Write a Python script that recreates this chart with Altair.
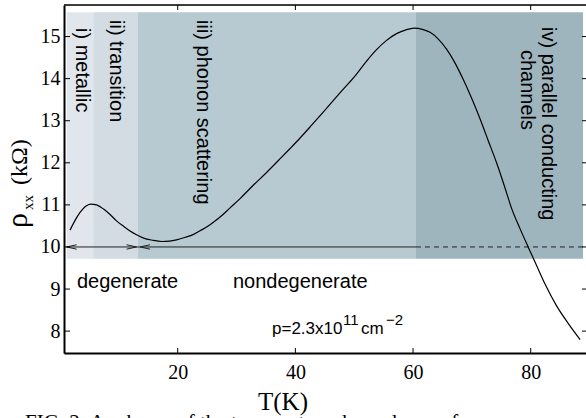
import altair as alt
import pandas as pd

# ---- data ----
T = [1.7, 2.5, 3.4, 4.3, 5.2, 6.2, 7.4, 8.5, 9.6, 10.8, 11.9, 13.0, 14.2, 15.7,
     17.3, 18.6, 19.8, 21.3, 22.7, 24.0, 25.5, 27.2, 28.9, 30.6, 32.8, 35.1,
     37.5, 39.1, 40.8, 42.8, 44.7, 47.5, 50.4, 52.0, 53.8, 55.5, 57.2, 58.8,
     60.2, 61.6, 62.9, 64.3, 65.7, 67.1, 68.5, 70.0, 71.4, 72.8, 74.2, 75.5,
     76.8, 78.2, 79.6, 81.0, 82.5, 84.4, 86.4, 88.4]
rho = [10.40, 10.62, 10.82, 10.96, 11.02, 11.00, 10.90, 10.77, 10.62, 10.49,
       10.38, 10.29, 10.21, 10.16, 10.13, 10.14, 10.17, 10.23, 10.30, 10.40,
       10.53, 10.71, 10.93, 11.15, 11.46, 11.77, 12.11, 12.34, 12.59, 12.90,
       13.20, 13.65, 14.11, 14.40, 14.69, 14.91, 15.07, 15.16, 15.20, 15.17,
       15.10, 14.94, 14.70, 14.38, 13.99, 13.52, 13.04, 12.52, 12.00, 11.46,
       10.90, 10.43, 9.99, 9.56, 9.10, 8.60, 8.18, 7.80]

region_start = [1.12, 5.65, 13.25, 60.5]
region_end = [5.65, 13.25, 60.5, 88.9]
region_colors = ["#e0e6eb", "#d3dce3", "#b7c9d1", "#9fb5bd"]
region_bottom = 9.72
region_top = 15.58

x_ticks = [20, 40, 60, 80]
y_ticks = [8, 9, 10, 11, 12, 13, 14, 15]

boundary_rho = 10
solid_span = [1.12, 60.5]
dashed_span = [60.5, 88.9]
left_tips = [1.12, 13.6]
right_tips = [13.0]

W, H = 522, 348
xscale = alt.Scale(domain=[0.67, 89.4], nice=False, zero=False)
yscale = alt.Scale(domain=[7.48, 15.75], nice=False, zero=False)
SERIF = "Liberation Serif"
SANS = "Liberation Sans"

xaxis = alt.Axis(values=x_ticks, title=None, grid=False, ticks=False,
                 tickSize=0, labelFont=SERIF, labelFontSize=20,
                 labelColor="black", labelPadding=9, domainColor="black",
                 domainWidth=2)
yaxis = alt.Axis(values=y_ticks, title=None, grid=False, ticks=False,
                 tickSize=0, labelFont=SERIF, labelFontSize=20,
                 labelColor="black", labelPadding=4, domainColor="black",
                 domainWidth=2)


def X(f):
    return alt.X(f, scale=xscale, axis=xaxis)


def Y(f):
    return alt.Y(f, scale=yscale, axis=yaxis)


curve_df = pd.DataFrame({"T": T, "rho": rho})
reg_df = pd.DataFrame({"x0": region_start, "x1": region_end,
                       "y0": [region_bottom] * 4, "y1": [region_top] * 4,
                       "c": region_colors})

regions = alt.Chart(reg_df).mark_rect().encode(
    x=X("x0:Q"), x2="x1:Q", y=Y("y0:Q"), y2="y1:Q",
    color=alt.Color("c:N", scale=None))

solid = alt.Chart(pd.DataFrame({"a": [solid_span[0]], "b": [solid_span[1]],
                                "r": [boundary_rho]})).mark_rule(
    color="#222", strokeWidth=1).encode(x=X("a:Q"), x2="b:Q", y=Y("r:Q"))

dashed = alt.Chart(pd.DataFrame({"a": [dashed_span[0]], "b": [dashed_span[1]],
                                 "r": [boundary_rho]})).mark_rule(
    color="#222", strokeWidth=1, strokeDash=[5, 4]).encode(x=X("a:Q"), x2="b:Q", y=Y("r:Q"))

lt = alt.Chart(pd.DataFrame({"t": left_tips, "r": [boundary_rho] * len(left_tips)})).mark_point(
    shape="M0,0L1,-0.22M0,0L1,0.22", size=400, filled=False, stroke="#222",
    strokeWidth=1, opacity=1).encode(x=X("t:Q"), y=Y("r:Q"))
rt = alt.Chart(pd.DataFrame({"t": right_tips, "r": [boundary_rho] * len(right_tips)})).mark_point(
    shape="M0,0L-1,-0.22M0,0L-1,0.22", size=400, filled=False, stroke="#222",
    strokeWidth=1, opacity=1).encode(x=X("t:Q"), y=Y("r:Q"))

curve = alt.Chart(curve_df).mark_line(color="black", strokeWidth=1.2,
                                      interpolate="monotone").encode(
    x=X("T:Q"), y=Y("rho:Q"))

xt_df = pd.DataFrame({"v": x_ticks})
yt_df = pd.DataFrame({"v": y_ticks})
tick_top = alt.Chart(xt_df).mark_rule(color="black", strokeWidth=1).encode(
    x=X("v:Q"), y=alt.value(0), y2=alt.value(5))
tick_bot = alt.Chart(xt_df).mark_rule(color="black", strokeWidth=1).encode(
    x=X("v:Q"), y=alt.value(H - 5), y2=alt.value(H))
tick_left = alt.Chart(yt_df).mark_rule(color="black", strokeWidth=1).encode(
    y=Y("v:Q"), x=alt.value(0), x2=alt.value(6))
tick_right = alt.Chart(yt_df).mark_rule(color="black", strokeWidth=1).encode(
    y=Y("v:Q"), x=alt.value(W - 4), x2=alt.value(W))
top_line = alt.Chart(pd.DataFrame({"k": [0]})).mark_rule(color="black", strokeWidth=1.5).encode(
    x=alt.value(0), x2=alt.value(W), y=alt.value(0))

one = pd.DataFrame({"k": [0]})


def txt(s, x, y, **kw):
    return alt.Chart(one).mark_text(text=s, **kw).encode(x=alt.value(x), y=alt.value(y))


vlab = dict(angle=90, align="left", baseline="middle", font=SANS, fontSize=20, color="black")
hl = dict(align="left", baseline="alphabetic", font=SANS, color="black")
texts = [
    txt("i) metallic", 18, 23, **vlab),
    txt("ii) transition", 52, 15, **vlab),
    txt("iii) phonon scattering", 139, 15, **vlab),
    txt("iv) parallel conducting", 484, 22, **vlab),
    txt("channels", 463, 45, **vlab),
    txt("degenerate", 13, 283, fontSize=20, **hl),
    txt("nondegenerate", 169, 283, fontSize=20, **hl),
    txt("p=2.3x10", 208, 329, fontSize=17, **hl),
    txt("11", 279, 320, fontSize=15, **hl),
    txt("cm", 297, 329, fontSize=17, **hl),
    txt("\u22122", 322, 320, fontSize=15, **hl),
    txt("T(K)", 219, 405, align="center", baseline="alphabetic", font=SERIF, fontSize=25, color="black"),
    txt("\u03c1", -37, 223, angle=270, align="left", baseline="alphabetic", font=SERIF, fontSize=30, color="black"),
    txt("xx", -31, 205, angle=270, align="left", baseline="alphabetic", font=SERIF, fontSize=15, color="black"),
    txt("(k\u03a9)", -37, 180, angle=270, align="left", baseline="alphabetic", font=SERIF, fontSize=24, color="black"),
    txt("FIG. 2:  A  scheme  of  the  temperature  dependence  of", -39, 424, align="left",
        baseline="alphabetic", font=SERIF, fontSize=21, color="black"),
]

chart = alt.layer(regions, solid, dashed, lt, rt, curve, tick_top, tick_bot,
                  tick_left, tick_right, top_line, *texts).properties(
    width=W, height=H,
    autosize=alt.AutoSizeParams(type="none"),
    padding={"left": 64, "top": 5, "right": 0, "bottom": 65},
).configure_view(stroke=None).configure(background="white")

chart.save("out.html", embed_options={"renderer": "svg", "actions": False})
